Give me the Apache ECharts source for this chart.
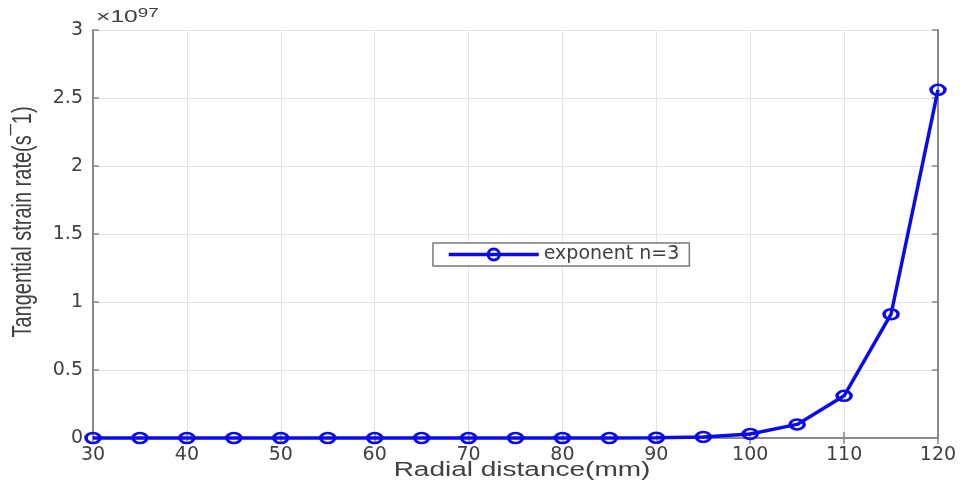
<!DOCTYPE html>
<html>
<head>
<meta charset="utf-8">
<script src="https://cdn.jsdelivr.net/npm/echarts@6/dist/echarts.min.js"></script>
<style>
  html, body { margin: 0; padding: 0; background: #ffffff; }
  #chart { width: 968px; height: 490px; }
</style>
</head>
<body>
<div id="chart"></div>
<script>
// Radial positions (mm)
const radialDistance = [30, 35, 40, 45, 50, 55, 60, 65, 70, 75, 80, 85, 90, 95, 100, 105, 110, 115, 120];
// Tangential strain rate, in units of 1e97 s^-1
const strainRate = [0, 0, 0, 0, 0, 0, 0, 0, 0, 0, 0, 0, 0.002, 0.008, 0.03, 0.10, 0.31, 0.91, 2.56];
const seriesName = 'exponent n=3';
const scaleExponent = '97';
const xTitle = 'Radial distance(mm)';
const yTitle = 'Tangential strain rate(s\u00AF1)';

const BLUE = '#0b0bea';
const AXIS = '#8a8a8a';
const GRIDC = '#e3e3e3';
const LABEL = '#404040';

const chart = echarts.init(document.getElementById('chart'), null, { renderer: 'canvas' });

const tickFont = { fontFamily: 'DejaVu Sans', fontSize: 19, color: LABEL };

const boxAxis = {
  axisLine: { show: true, lineStyle: { color: AXIS, width: 2 } },
  axisTick: { show: true, inside: true, length: 6, lineStyle: { color: AXIS, width: 1.5 } }
};

chart.setOption({
  animation: false,
  backgroundColor: '#ffffff',
  grid: { left: 93, right: 30, top: 30, bottom: 52, containLabel: false },
  legend: {
    left: 433, top: 243,
    orient: 'horizontal',
    data: [seriesName],
    backgroundColor: '#ffffff',
    borderColor: '#7a7a7a', borderWidth: 1.5, borderRadius: 0,
    padding: [2, 10, 2, 14],
    itemWidth: 90, itemHeight: 14, itemGap: 4,
    lineStyle: { width: 3.5 },
    itemStyle: { borderWidth: 3 },
    textStyle: { fontFamily: 'DejaVu Sans', fontSize: 19, color: LABEL }
  },
  xAxis: [
    Object.assign({
      type: 'value', position: 'bottom', min: 30, max: 120, interval: 10,
      axisLabel: Object.assign({ margin: 8 }, tickFont),
      splitLine: { show: true, lineStyle: { color: GRIDC, width: 1 } }
    }, boxAxis),
    Object.assign({
      type: 'value', position: 'top', min: 30, max: 120, interval: 10,
      axisLabel: { show: false }, splitLine: { show: false }
    }, boxAxis)
  ],
  yAxis: [
    Object.assign({
      type: 'value', position: 'left', min: 0, max: 3, interval: 0.5,
      axisLabel: Object.assign({ margin: 10 }, tickFont),
      splitLine: { show: true, lineStyle: { color: GRIDC, width: 1 } }
    }, boxAxis),
    Object.assign({
      type: 'value', position: 'right', min: 0, max: 3, interval: 0.5,
      axisLabel: { show: false }, splitLine: { show: false }
    }, boxAxis)
  ],
  series: [{
    name: seriesName,
    type: 'line',
    xAxisIndex: 0, yAxisIndex: 0,
    data: radialDistance.map((r, i) => [r, strainRate[i]]),
    symbol: 'path://M0,5A5,5,0,1,1,10,5A5,5,0,1,1,0,5Z',
    symbolSize: [14, 10],
    symbolKeepAspect: false,
    showAllSymbol: true,
    clip: false,
    lineStyle: { color: BLUE, width: 3.5 },
    itemStyle: { color: 'rgba(255,255,255,0)', borderColor: BLUE, borderWidth: 3 },
    z: 5
  }],
  graphic: [
    {
      // axis scale factor, top-left of the plot box
      type: 'text', x: 96, y: 28, scaleX: 1.45,
      style: {
        text: '\u00D710{e|' + scaleExponent + '}',
        fontFamily: 'Liberation Sans', fontSize: 17, fill: LABEL,
        verticalAlign: 'bottom',
        rich: { e: { fontFamily: 'Liberation Sans', fontSize: 13, fill: LABEL, verticalAlign: 'top', padding: [0, 0, 8, 0] } }
      }
    },
    {
      type: 'text', x: 522, y: 470, scaleX: 1.4,
      style: {
        text: xTitle, fontFamily: 'Liberation Sans', fontSize: 20, fill: LABEL,
        align: 'center', verticalAlign: 'middle'
      }
    },
    {
      type: 'text', x: 24, y: 222, rotation: Math.PI / 2, scaleY: 1.35,
      style: {
        text: yTitle, fontFamily: 'Liberation Sans', fontSize: 20, fill: LABEL,
        align: 'center', verticalAlign: 'middle'
      }
    }
  ]
});
</script>
</body>
</html>
